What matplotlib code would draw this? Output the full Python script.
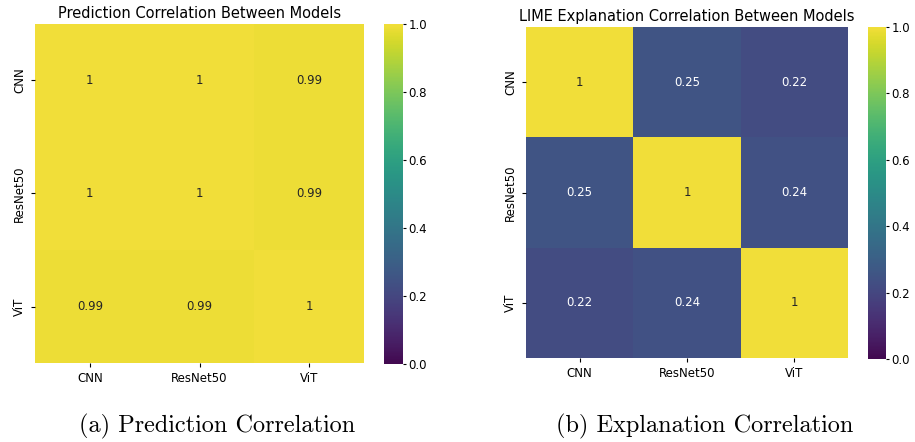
import numpy as np
import matplotlib
matplotlib.use('Agg')
import matplotlib.pyplot as plt
from matplotlib.colors import ListedColormap
import seaborn as sns

models = ['CNN', 'ResNet50', 'ViT']
pred_corr = [[1.0, 1.0, 0.99],
             [1.0, 1.0, 0.99],
             [0.99, 0.99, 1.0]]
lime_corr = [[1.0, 0.25, 0.22],
             [0.25, 1.0, 0.24],
             [0.22, 0.24, 1.0]]

# slightly muted viridis, the reference looks a bit washed out
v = plt.cm.viridis(np.linspace(0, 1, 256))[:, :3]
lum = v.mean(axis=1, keepdims=True)
muted = ListedColormap(np.clip(lum + 0.85 * (v - lum), 0, 1))

W, H = 915, 442
fig = plt.figure(figsize=(W / 100, H / 100), dpi=100)

def px_axes(x0, y0, x1, y1):
    # pixel box (top-left origin) -> figure axes
    return fig.add_axes([x0 / W, 1 - y1 / H, (x1 - x0) / W, (y1 - y0) / H])

def draw(ax, cax, data, title):
    sns.heatmap(np.array(data), ax=ax, cbar_ax=cax, annot=True, cmap=muted,
                vmin=0, vmax=1, xticklabels=models, yticklabels=models,
                annot_kws={'fontsize': 8.5})
    ax.set_title(title, fontsize=10.5, pad=4)
    ax.tick_params(labelsize=8.5, length=3)
    cax.tick_params(labelsize=8.5, length=2.5, pad=1.5)

ax1 = px_axes(35, 24, 364, 363)
cax1 = px_axes(384, 24, 403, 364)
draw(ax1, cax1, pred_corr, 'Prediction Correlation Between Models')

ax2 = px_axes(526, 27, 848, 358)
cax2 = px_axes(868, 27, 886, 359)
draw(ax2, cax2, lime_corr, 'LIME Explanation Correlation Between Models')

fig.text(217 / W, 1 - 426 / H, '(a) Prediction Correlation', ha='center', va='center',
         fontsize=17.5, family='cmr10')
fig.text(705 / W, 1 - 426 / H, '(b) Explanation Correlation', ha='center', va='center',
         fontsize=17.5, family='cmr10')

plt.savefig('out.png', dpi=100)
